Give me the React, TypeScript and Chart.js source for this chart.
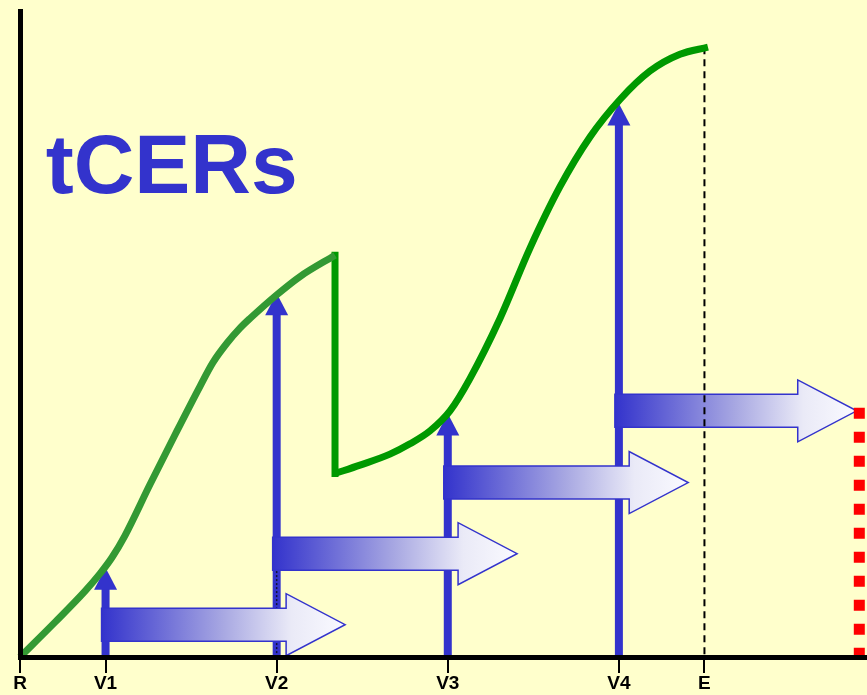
import React, { useEffect, useRef } from "react";
import { Chart, registerables } from "chart.js";

Chart.register(...registerables);

// ---------- data ----------
const tickValues = [0, 1, 3, 5, 7, 8];
const tickLabels = ["R", "V1", "V2", "V3", "V4", "E"];

// first growth curve (until the first verification replacement)
const curve1X = [0, 0.41, 0.76, 0.935, 1.075, 1.227, 1.519, 1.812, 2.104, 2.256, 2.42, 2.571, 2.688, 3.004, 3.273, 3.682];
const curve1Y = [0, 5.4, 10.2, 12.9, 15.4, 18.8, 26.7, 34.4, 41.9, 45.6, 48.6, 50.9, 52.4, 56.1, 58.9, 62.2];

// sudden drop
const dropX = [3.682, 3.682];
const dropY = [62.2, 28.4];

// second growth curve
const curve2X = [3.682, 3.974, 4.324, 4.558, 4.792, 5.026, 5.259, 5.61, 5.961, 6.311, 6.662, 7.013, 7.363, 7.714, 8.041];
const curve2Y = [28.4, 29.7, 31.4, 33.0, 35.0, 38.1, 43.1, 52.4, 63.3, 72.8, 80.5, 86.3, 90.7, 93.3, 94.4];

// vertical (verification) arrows
const verticalX = [1, 3, 5, 7];
const verticalTipY = [13.8, 56.3, 37.7, 85.7];

// horizontal (tCER validity) arrows
const arrowStartX = [1, 3, 5, 7];
const arrowTipX = [3.8, 5.81, 7.81, 9.78];
const arrowY = [5.0, 16.0, 27.0, 38.1];

// end of crediting period
const endX = [8.0, 8.0];
const endY = [94.4, 0];

// expiry (red dotted)
const expiryX = [9.81, 9.81];
const expiryY = [38.6, -0.5];

// dotted marker at V2
const markerX = [3, 3];
const markerY = [13.3, 0];

const titleText = "tCERs";
const titleX = 0.3;
const titleY = 71.8;

// ---------- styles ----------
const BLUE = "#3333CC";
const FONT = '"Liberation Sans", Arial, Helvetica, sans-serif';

const pts = (xs: number[], ys: number[]) => xs.map((x, i) => ({ x, y: ys[i] }));

const diagramPlugin = {
  id: "diagram",
  beforeDatasetsDraw(chart: any) {
    const { ctx, scales } = chart;
    const x = scales.x;
    const y = scales.y;
    ctx.save();
    // big label
    ctx.fillStyle = BLUE;
    ctx.font = `bold 84px ${FONT}`;
    ctx.textAlign = "left";
    ctx.textBaseline = "alphabetic";
    ctx.fillText(titleText, x.getPixelForValue(titleX), y.getPixelForValue(titleY));
    // vertical arrows
    verticalX.forEach((vx, i) => {
      const px = x.getPixelForValue(vx);
      const base = y.getPixelForValue(0);
      const tip = y.getPixelForValue(verticalTipY[i]);
      ctx.fillStyle = BLUE;
      ctx.fillRect(px - 4, tip + 21, 8, base - tip - 21);
      ctx.beginPath();
      ctx.moveTo(px, tip);
      ctx.lineTo(px + 11.5, tip + 22);
      ctx.lineTo(px - 11.5, tip + 22);
      ctx.closePath();
      ctx.fill();
    });
    ctx.restore();
  },
  afterDatasetDraw(chart: any, args: any) {
    if (chart.data.datasets[args.index].label !== "marker") return;
    const { ctx, scales } = chart;
    const x = scales.x;
    const y = scales.y;
    ctx.save();
    arrowStartX.forEach((sx, i) => {
      const x0 = x.getPixelForValue(sx) - 4;
      const xt = x.getPixelForValue(arrowTipX[i]);
      const cy = y.getPixelForValue(arrowY[i]);
      const sh = 16.5;
      const hh = 31;
      const hl = 59;
      const xb = xt - hl;
      const g = ctx.createLinearGradient(x0, 0, xt, 0);
      g.addColorStop(0, BLUE);
      g.addColorStop(0.5, "#A8A8E2");
      g.addColorStop(0.78, "#EAEAF7");
      g.addColorStop(1, "#FAFAFF");
      ctx.beginPath();
      ctx.moveTo(x0, cy - sh);
      ctx.lineTo(xb, cy - sh);
      ctx.lineTo(xb, cy - hh);
      ctx.lineTo(xt, cy);
      ctx.lineTo(xb, cy + hh);
      ctx.lineTo(xb, cy + sh);
      ctx.lineTo(x0, cy + sh);
      ctx.closePath();
      ctx.fillStyle = g;
      ctx.fill();
      ctx.lineWidth = 1.5;
      ctx.strokeStyle = BLUE;
      ctx.lineJoin = "miter";
      ctx.stroke();
    });
    ctx.restore();
  },
};

export default function App() {
  const ref = useRef<HTMLCanvasElement | null>(null);

  useEffect(() => {
    if (!ref.current) return;
    const chart = new Chart(ref.current, {
      type: "line",
      data: {
        datasets: [
          {
            label: "curve1",
            data: pts(curve1X, curve1Y),
            borderColor: "#339933",
            borderWidth: 7,
            pointRadius: 0,
            cubicInterpolationMode: "monotone",
            borderCapStyle: "butt",
            order: 1,
            clip: false,
          },
          {
            label: "drop",
            data: pts(dropX, dropY),
            borderColor: "#009900",
            borderWidth: 7,
            pointRadius: 0,
            tension: 0,
            borderCapStyle: "square",
            order: 2,
            clip: false,
          },
          {
            label: "curve2",
            data: pts(curve2X, curve2Y),
            borderColor: "#009900",
            borderWidth: 7,
            pointRadius: 0,
            cubicInterpolationMode: "monotone",
            borderCapStyle: "butt",
            order: 0,
            clip: false,
          },
          {
            label: "end",
            data: pts(endX, endY),
            borderColor: "#000000",
            borderWidth: 2,
            borderDash: [7, 5],
            pointRadius: 0,
            tension: 0,
            order: 4,
            clip: false,
          },
          {
            label: "expiry",
            data: pts(expiryX, expiryY),
            borderColor: "#FF0000",
            borderWidth: 11,
            borderDash: [11, 13],
            borderCapStyle: "butt",
            pointRadius: 0,
            tension: 0,
            order: 3,
            clip: false,
          },
          {
            label: "marker",
            data: pts(markerX, markerY),
            borderColor: "#111133",
            borderWidth: 1.5,
            borderDash: [2, 2],
            pointRadius: 0,
            tension: 0,
            order: 10,
            clip: false,
          },
        ],
      },
      options: {
        responsive: false,
        animation: false,
        events: [],
        layout: { padding: { left: 20, top: 11, right: 0, bottom: 0 } },
        plugins: {
          legend: { display: false },
          tooltip: { enabled: false },
        },
        scales: {
          x: {
            type: "linear",
            min: 0,
            max: 9.9,
            afterBuildTicks: (s: any) => {
              s.ticks = tickValues.map((v) => ({ value: v }));
            },
            ticks: {
              autoSkip: false,
              maxRotation: 0,
              minRotation: 0,
              color: "#000000",
              padding: 1.5,
              font: { family: FONT, size: 19, weight: "bold", lineHeight: 1 },
              callback: (v: any) => {
                const i = tickValues.indexOf(Number(v));
                return i >= 0 ? tickLabels[i] : "";
              },
            },
            grid: {
              display: true,
              drawOnChartArea: false,
              drawTicks: true,
              tickLength: 16,
              tickWidth: 2,
              tickColor: "#000000",
              lineWidth: 2,
            },
            border: { display: true, color: "#000000", width: 5, z: 1 },
          },
          y: {
            type: "linear",
            min: 0,
            max: 100,
            ticks: { display: false },
            grid: { display: false, drawTicks: false, drawOnChartArea: false },
            border: { display: true, color: "#000000", width: 5, z: 1 },
          },
        },
      },
      plugins: [diagramPlugin],
    } as any);
    return () => chart.destroy();
  }, []);

  return (
    <div
      style={{
        position: "fixed",
        left: 0,
        top: 0,
        width: 867,
        height: 695,
        background: "#FFFFCC",
        overflow: "hidden",
      }}
    >
      <canvas ref={ref} width={867} height={695} style={{ display: "block", width: 867, height: 695 }} />
    </div>
  );
}
